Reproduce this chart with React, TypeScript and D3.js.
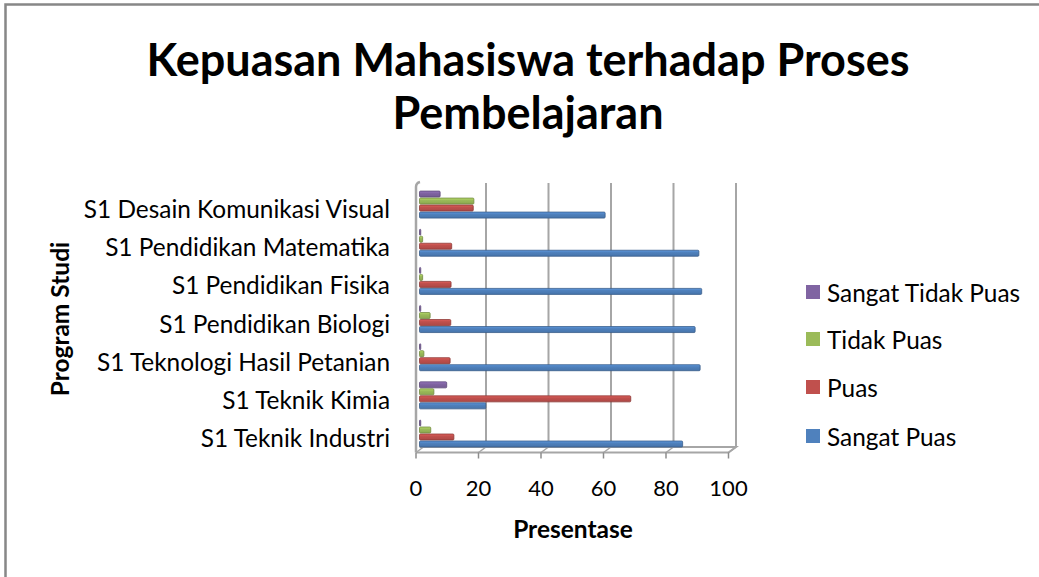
import React from "react";
import * as d3 from "d3";

const categories = [
  "S1 Desain Komunikasi Visual",
  "S1 Pendidikan Matematika",
  "S1 Pendidikan Fisika",
  "S1 Pendidikan Biologi",
  "S1 Teknologi Hasil Petanian",
  "S1 Teknik Kimia",
  "S1 Teknik Industri",
];
const seriesNames = ["Sangat Tidak Puas", "Tidak Puas", "Puas", "Sangat Puas"];
const sangatTidakPuas = [6.6, 0.4, 0.4, 0.4, 0.4, 8.7, 0.4];
const tidakPuas = [17.4, 1.0, 1.0, 3.4, 1.4, 4.6, 3.6];
const puas = [17.2, 10.3, 10.1, 10.0, 9.8, 67.6, 11.0];
const sangatPuas = [59.4, 89.4, 90.3, 88.2, 89.8, 21.2, 84.2];
const seriesValues = [sangatTidakPuas, tidakPuas, puas, sangatPuas];
const xTicks = [0, 20, 40, 60, 80, 100];

const colors = ["#8064A2", "#9BBB59", "#C0504D", "#4F81BD"];
const darks = ["#5C4776", "#71893F", "#8C3836", "#385D8A"];

const FONT = "Lato, 'Open Sans', sans-serif";

export default function App() {
  const W = 1039, H = 577;
  const xBack = d3.scaleLinear().domain([0, 100]).range([423.5, 736]);
  const xFront = d3.scaleLinear().domain([0, 100]).range([416, 728.5]);
  const xBar = d3.scaleLinear().domain([0, 100]).range([419.5, 732]);
  const yCat = d3.scaleBand<string>().domain(categories).range([185.5, 452.6]).padding(0);
  const ySer = d3.scaleBand<string>().domain(seriesNames).range([-14, 14]).padding(0);
  const wallTop = 183, floorBack = 447, floorFront = 452.5;
  const grid = "#A6A6A6";

  const legendY = [292, 339, 387, 436];

  return (
    <svg width={W} height={H} style={{ position: "absolute", left: 0, top: 0, background: "#fff" }} fontFamily={FONT}>
      <defs>
        {colors.map((c, i) => (
          <linearGradient key={i} id={`g${i}`} x1="0" y1="0" x2="0" y2="1">
            <stop offset="0" stopColor={d3.color(c)!.brighter(0.5).toString()} />
            <stop offset="0.35" stopColor={c} />
            <stop offset="1" stopColor={d3.color(c)!.darker(0.3).toString()} />
          </linearGradient>
        ))}
      </defs>
      <rect x={0} y={0} width={W} height={H} fill="#fff" />
      <rect x={5.5} y={4.5} width={1100} height={700} fill="none" stroke="#878787" strokeWidth={2.5} />

      {/* Title */}
      <text x={528} y={76} textAnchor="middle" fontWeight={700} fontSize={45} fill="#000">
        Kepuasan Mahasiswa terhadap Proses
      </text>
      <text x={528} y={129} textAnchor="middle" fontWeight={700} fontSize={45} fill="#000">
        Pembelajaran
      </text>

      {/* back wall gridlines */}
      {xTicks.slice(1).map((t) => (
        <line key={t} x1={xBack(t)} x2={xBack(t)} y1={wallTop} y2={floorBack} stroke={grid} strokeWidth={2} />
      ))}
      {/* floor */}
      <path
        d={`M${xBack(0) - 4},${floorBack} L${xBack(100)},${floorBack} L${xFront(100)},${floorFront} L${xFront(0)},${floorFront}`}
        fill="none"
        stroke={grid}
        strokeWidth={2}
      />
      {xTicks.map((t) => (
        <g key={t}>
          <line x1={xFront(t)} x2={xBack(t)} y1={floorFront} y2={floorBack} stroke={grid} strokeWidth={1.5} />
          <line x1={xFront(t)} x2={xFront(t)} y1={floorFront} y2={floorFront + 6} stroke="#8c8c8c" strokeWidth={1.5} />
        </g>
      ))}
      {/* left wall */}
      <path
        d={`M${xFront(0)},${floorFront} L${xFront(0)},${wallTop + 4} Q${xFront(0)},${wallTop} ${xFront(0) + 4},${wallTop - 1}`}
        fill="none"
        stroke={grid}
        strokeWidth={2.5}
      />

      {/* bars */}
      {categories.map((c, ci) => {
        const cy = yCat(c)! + yCat.bandwidth() / 2;
        return (
          <g key={c}>
            {seriesNames.map((s, si) => {
              const v = seriesValues[si][ci];
              const y0 = cy + ySer(s)!;
              const h = ySer.bandwidth();
              const x0 = xBar(0);
              const w = Math.max(xBar(v) - x0, 1.2);
              return (
                <rect key={s} x={x0} y={y0 + 0.5} width={w} height={h - 1} fill={`url(#g${si})`} stroke={darks[si]} strokeWidth={0.8} rx={1} />
              );
            })}
          </g>
        );
      })}

      {/* category labels */}
      {categories.map((c) => (
        <text key={c} x={390} y={yCat(c)! + yCat.bandwidth() / 2 + 4} textAnchor="end" dominantBaseline="central" fontSize={24.4} fill="#000">
          {c}
        </text>
      ))}

      {/* x tick labels */}
      {xTicks.map((t) => (
        <text key={t} x={xFront(t)} y={496} textAnchor="middle" fontSize={22} fill="#000">
          {t}
        </text>
      ))}

      {/* axis titles */}
      <text x={573} y={538} textAnchor="middle" fontWeight={700} fontSize={24.5} fill="#000">
        Presentase
      </text>
      <text transform="translate(69,319) rotate(-90)" textAnchor="middle" fontWeight={700} fontSize={24.5} fill="#000">
        Program Studi
      </text>

      {/* legend */}
      {seriesNames.map((s, i) => (
        <g key={s}>
          <rect x={806} y={legendY[i] - 7} width={14} height={14} fill={colors[i]} />
          <text x={827} y={legendY[i]} dominantBaseline="central" fontSize={24.4} fill="#000">
            {s}
          </text>
        </g>
      ))}
    </svg>
  );
}
